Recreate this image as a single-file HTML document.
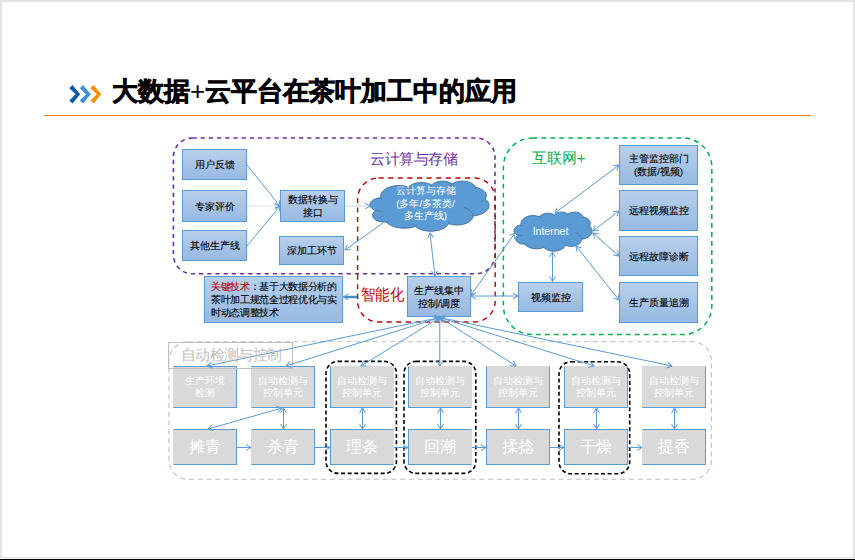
<!DOCTYPE html><html><head><meta charset="utf-8"><style>
*{box-sizing:border-box}
body{margin:0;width:855px;height:560px;overflow:hidden;background:#fff;font-family:"Liberation Sans",sans-serif;position:relative}
.a{position:absolute}
.bx{position:absolute;border:1px solid #5b9bd5;background:linear-gradient(#b7cfec,#97b9e2);display:flex;align-items:center;justify-content:center;text-align:center;font-size:9.8px;line-height:13px;color:#000;-webkit-text-stroke:0.12px #000}
.gb{position:absolute;border:1px solid #5b9bd5;background:#d9d9d9;display:flex;align-items:center;justify-content:center;text-align:center;color:#fff}
.sm{font-size:9.6px;line-height:12.5px}
.bg{font-size:15.5px}
svg{position:absolute;left:0;top:0}
</style></head><body>

<div class="a" style="left:0;top:0;width:855px;height:2px;background:#e3e3e3"></div>
<div class="a" style="left:0;top:0;width:2px;height:560px;background:#e3e3e3"></div>
<div class="a" style="left:853px;top:0;width:2px;height:560px;background:#e3e3e3"></div>
<div class="a" style="left:0;top:557px;width:855px;height:1px;background:#e3e3e3"></div>
<div class="a" style="left:0;top:558px;width:855px;height:1px;background:#f2f2f2"></div>
<div class="a" style="left:0;top:559px;width:855px;height:1px;background:#000"></div>
<div class="a" style="left:112px;top:74px;font-size:26px;font-weight:bold;-webkit-text-stroke:0.7px #000;color:#000;white-space:nowrap">大数据<span style="-webkit-text-stroke:0;font-weight:normal">+</span>云平台在茶叶加工中的应用</div>
<div class="a" style="left:44px;top:115px;width:767px;height:1.3px;background:#ed7d31"></div>
<div class="bx" style="left:182px;top:149px;width:65px;height:31px;">用户反馈</div>
<div class="bx" style="left:182px;top:190px;width:65px;height:32px;">专家评价</div>
<div class="bx" style="left:182px;top:230px;width:65px;height:31px;">其他生产线</div>
<div class="bx" style="left:280px;top:190px;width:65px;height:32px;">数据转换与<br>接口</div>
<div class="bx" style="left:279px;top:236px;width:65px;height:29px;">深加工环节</div>
<div class="bx" style="left:204px;top:276px;width:139px;height:47px;justify-content:flex-start;padding:0 0 0 6px;line-height:13px;font-size:10px;letter-spacing:-0.35px"><div style="text-align:left;width:100%"><span style="color:#ff0000">关键技术</span>：基于大数据分析的<br>茶叶加工规范全过程优化与实<br>时动态调整技术</div></div>
<div class="bx" style="left:407px;top:276px;width:64px;height:41px;">生产线集中<br>控制/调度</div>
<div class="bx" style="left:619px;top:145px;width:79px;height:40px;">主管监控部门<br>(数据/视频)</div>
<div class="bx" style="left:619px;top:190px;width:79px;height:41px;">远程视频监控</div>
<div class="bx" style="left:619px;top:236px;width:79px;height:40px;">远程故障诊断</div>
<div class="bx" style="left:619px;top:282px;width:79px;height:41px;">生产质量追溯</div>
<div class="bx" style="left:518px;top:282px;width:65px;height:30px;">视频监控</div>
<div class="gb sm" style="left:173.0px;top:366px;width:64px;height:42px;border-left-color:#d9d9d9;">生产环境<br>检测</div>
<div class="gb bg" style="left:173.0px;top:429px;width:64px;height:36px;border-left-color:#d9d9d9;">摊青</div>
<div class="gb sm" style="left:251.0px;top:366px;width:64px;height:42px;border-left-color:#d9d9d9;">自动检测与<br>控制单元</div>
<div class="gb bg" style="left:251.0px;top:429px;width:64px;height:36px;border-left-color:#d9d9d9;">杀青</div>
<div class="gb sm" style="left:330.0px;top:366px;width:64px;height:42px;border-right-color:#d9d9d9;border-top-color:#d9d9d9">自动检测与<br>控制单元</div>
<div class="gb bg" style="left:330.0px;top:429px;width:64px;height:36px;border-right-color:#d9d9d9;">理条</div>
<div class="gb sm" style="left:408.0px;top:366px;width:64px;height:42px;border-right-color:#d9d9d9;border-top-color:#d9d9d9">自动检测与<br>控制单元</div>
<div class="gb bg" style="left:408.0px;top:429px;width:64px;height:36px;border-right-color:#d9d9d9;">回潮</div>
<div class="gb sm" style="left:486.0px;top:366px;width:64px;height:42px;border-top-color:#d9d9d9">自动检测与<br>控制单元</div>
<div class="gb bg" style="left:486.0px;top:429px;width:64px;height:36px;">揉捻</div>
<div class="gb sm" style="left:564.0px;top:366px;width:64px;height:42px;border-top-color:#d9d9d9">自动检测与<br>控制单元</div>
<div class="gb bg" style="left:564.0px;top:429px;width:64px;height:36px;">干燥</div>
<div class="gb sm" style="left:642.0px;top:366px;width:64px;height:42px;border-left-color:#d9d9d9;border-top-color:#d9d9d9">自动检测与<br>控制单元</div>
<div class="gb bg" style="left:642.0px;top:429px;width:64px;height:36px;border-left-color:#d9d9d9;">提香</div>
<svg width="855" height="560" viewBox="0 0 855 560">
<defs><marker id="ar" markerWidth="8" markerHeight="8" refX="6" refY="4" orient="auto-start-reverse" markerUnits="userSpaceOnUse"><path d="M1,1 L6,4 L1,7" fill="none" stroke="#5b9bd5" stroke-width="1"/></marker></defs>
<path d="M69.3,88.2 L72.5,85 L80.1,94.3 L72.5,103.6 L69.3,100.4 L75.7,94.3 Z" fill="#0b5aa6"/>
<path d="M79.8,88.2 L83.0,85 L90.6,94.3 L83.0,103.6 L79.8,100.4 L86.2,94.3 Z" fill="#3a8fd9"/>
<path d="M90.4,88.2 L93.6,85 L101.2,94.3 L93.6,103.6 L90.4,100.4 L96.8,94.3 Z" fill="#f39200"/>
<rect x="173.4" y="138.0" width="321.6" height="135.8" rx="19" fill="none" stroke="#7030a0" stroke-width="1.6" stroke-dasharray="4.3 3.9"/>
<rect x="357.6" y="178.0" width="137.6" height="144.0" rx="21" fill="none" stroke="#c00000" stroke-width="1.4" stroke-dasharray="5.1 4.5"/>
<rect x="503.4" y="138.0" width="208.4" height="196.6" rx="29" fill="none" stroke="#00b050" stroke-width="1.5" stroke-dasharray="4.8 4.2"/>
<rect x="169.0" y="341.8" width="542.4" height="137.5" rx="19" fill="none" stroke="#bfbfbf" stroke-width="1.1" stroke-dasharray="5 3.8"/>
<rect x="326.0" y="361.4" width="70.4" height="112.0" rx="12" fill="none" stroke="#000" stroke-width="1.6" stroke-dasharray="4 2.6"/>
<rect x="404.0" y="361.4" width="71.8" height="112.0" rx="12" fill="none" stroke="#000" stroke-width="1.6" stroke-dasharray="4 2.6"/>
<rect x="559.0" y="361.8" width="70.7" height="112.0" rx="12" fill="none" stroke="#000" stroke-width="1.6" stroke-dasharray="4 2.6"/>
<rect x="168.5" y="342.5" width="124" height="26" fill="none" stroke="#bfbfbf" stroke-width="1"/>
<path d="M380.74,197.63L380.62,196.93L380.57,196.22L380.61,195.52L380.73,194.81L380.94,194.10L381.24,193.39L381.63,192.66L382.13,191.93L382.76,191.20L383.51,190.46L384.42,189.72L385.49,188.99L386.74,188.29L388.19,187.62L389.83,187.00L391.66,186.47L393.68,186.04L395.83,185.74L398.07,185.58L400.35,185.58L402.59,185.74L404.74,186.05L406.75,186.48L408.58,187.02L409.00,186.60L409.48,186.17L410.03,185.75L410.65,185.33L411.34,184.92L412.11,184.52L412.96,184.14L413.90,183.79L414.92,183.46L416.02,183.18L417.18,182.94L418.41,182.75L419.68,182.62L420.98,182.56L422.29,182.57L423.59,182.64L424.85,182.77L426.07,182.96L427.23,183.21L428.32,183.50L429.33,183.83L430.25,184.19L431.10,184.57L431.86,184.97L432.22,184.59L432.64,184.20L433.13,183.82L433.68,183.44L434.31,183.07L435.02,182.71L435.82,182.37L436.69,182.06L437.65,181.78L438.69,181.54L439.78,181.36L440.93,181.23L442.11,181.17L443.29,181.17L444.47,181.24L445.61,181.38L446.70,181.57L447.72,181.81L448.67,182.10L449.53,182.41L450.31,182.76L451.01,183.12L451.63,183.49L452.18,183.87L452.97,183.38L453.88,182.91L454.92,182.47L456.09,182.07L457.38,181.73L458.77,181.46L460.25,181.27L461.78,181.18L463.33,181.19L464.85,181.30L466.31,181.51L467.69,181.80L468.95,182.16L470.09,182.57L471.10,183.01L471.98,183.49L472.75,183.98L473.41,184.48L473.96,184.98L474.43,185.48L474.81,185.98L475.13,186.48L475.37,186.97L475.55,187.45L476.99,187.72L478.33,188.07L479.56,188.47L480.66,188.91L481.64,189.38L482.50,189.88L483.25,190.38L483.90,190.90L484.46,191.41L484.93,191.93L485.32,192.44L485.65,192.94L485.90,193.44L486.10,193.94L486.25,194.43L486.34,194.93L486.38,195.42L486.37,195.91L486.31,196.40L486.20,196.89L486.04,197.38L485.82,197.88L485.54,198.39L485.19,198.89L486.15,199.67L486.93,200.45L487.58,201.23L488.09,202.00L488.48,202.76L488.76,203.51L488.95,204.26L489.04,205.00L489.05,205.75L488.96,206.49L488.77,207.24L488.49,207.99L488.11,208.75L487.60,209.52L486.97,210.30L486.19,211.08L485.24,211.86L484.12,212.63L482.79,213.37L481.25,214.07L479.48,214.71L477.51,215.26L475.34,215.68L473.04,215.96L473.00,216.51L472.90,217.07L472.74,217.63L472.51,218.19L472.22,218.76L471.85,219.34L471.39,219.92L470.84,220.50L470.19,221.08L469.42,221.66L468.53,222.23L467.50,222.78L466.34,223.30L465.02,223.78L463.57,224.20L462.00,224.55L460.31,224.80L458.55,224.95L456.76,224.99L454.97,224.91L453.24,224.72L451.59,224.43L450.06,224.05L448.66,223.61L448.26,224.28L447.77,224.96L447.16,225.65L446.44,226.34L445.59,227.03L444.60,227.71L443.45,228.37L442.13,229.00L440.64,229.59L438.98,230.11L437.15,230.55L435.20,230.89L433.14,231.10L431.02,231.18L428.90,231.12L426.83,230.93L424.86,230.61L423.01,230.19L421.32,229.67L419.81,229.10L418.46,228.47L417.29,227.81L416.27,227.13L415.40,226.44L414.15,226.84L412.83,227.20L411.43,227.51L409.96,227.77L408.44,227.97L406.88,228.11L405.29,228.18L403.69,228.18L402.10,228.11L400.54,227.98L399.01,227.78L397.54,227.53L396.14,227.22L394.81,226.87L393.56,226.47L392.40,226.04L391.32,225.59L390.32,225.11L389.41,224.62L388.58,224.12L387.83,223.61L387.15,223.09L386.54,222.57L385.99,222.05L384.26,222.10L382.54,222.00L380.90,221.77L379.38,221.42L378.04,220.99L376.87,220.50L375.87,219.96L375.05,219.41L374.37,218.84L373.82,218.28L373.39,217.72L373.06,217.17L372.82,216.62L372.67,216.07L372.59,215.54L372.59,215.00L372.66,214.46L372.81,213.91L373.04,213.37L373.37,212.81L373.79,212.25L374.33,211.69L375.00,211.13L375.82,210.57L374.54,210.07L373.45,209.52L372.55,208.95L371.81,208.36L371.22,207.77L370.76,207.19L370.41,206.61L370.16,206.04L369.99,205.48L369.91,204.92L369.91,204.36L369.99,203.80L370.15,203.24L370.40,202.67L370.75,202.09L371.20,201.51L371.79,200.92L372.52,200.34L373.42,199.76L374.50,199.21L375.78,198.71L377.25,198.29L378.88,197.97L380.64,197.79Z" fill="#5b9bd5" stroke="#41719c" stroke-width="1"/>
<path d="M521.04,224.97L520.96,224.42L520.93,223.87L520.96,223.32L521.03,222.77L521.17,222.22L521.36,221.66L521.62,221.10L521.95,220.53L522.36,219.96L522.86,219.38L523.45,218.80L524.15,218.24L524.97,217.68L525.92,217.16L527.00,216.68L528.20,216.26L529.52,215.93L530.93,215.69L532.40,215.57L533.89,215.57L535.36,215.70L536.77,215.94L538.09,216.28L539.29,216.70L539.56,216.37L539.88,216.03L540.24,215.70L540.64,215.38L541.10,215.06L541.60,214.75L542.16,214.45L542.78,214.17L543.44,213.92L544.16,213.70L544.93,213.51L545.73,213.37L546.56,213.27L547.42,213.22L548.27,213.22L549.12,213.28L549.96,213.38L550.75,213.53L551.51,213.72L552.23,213.95L552.89,214.21L553.49,214.49L554.05,214.79L554.55,215.10L554.78,214.80L555.06,214.50L555.38,214.20L555.74,213.90L556.16,213.61L556.62,213.33L557.14,213.07L557.72,212.82L558.34,212.61L559.02,212.42L559.74,212.28L560.49,212.18L561.26,212.13L562.04,212.14L562.81,212.19L563.56,212.30L564.27,212.45L564.94,212.63L565.56,212.86L566.13,213.10L566.64,213.37L567.10,213.65L567.51,213.94L567.87,214.24L568.38,213.86L568.98,213.49L569.66,213.15L570.43,212.84L571.27,212.57L572.19,212.36L573.16,212.21L574.16,212.14L575.17,212.15L576.17,212.24L577.13,212.40L578.03,212.62L578.86,212.90L579.60,213.22L580.27,213.57L580.85,213.94L581.35,214.32L581.78,214.71L582.14,215.11L582.45,215.50L582.70,215.89L582.91,216.27L583.07,216.65L583.19,217.03L584.13,217.25L585.01,217.51L585.81,217.82L586.53,218.17L587.18,218.54L587.74,218.92L588.23,219.32L588.66,219.72L589.02,220.12L589.33,220.52L589.59,220.92L589.80,221.31L589.97,221.71L590.10,222.09L590.20,222.48L590.26,222.86L590.28,223.24L590.28,223.63L590.24,224.01L590.17,224.39L590.06,224.78L589.92,225.17L589.73,225.56L589.51,225.96L590.13,226.56L590.65,227.17L591.07,227.78L591.40,228.38L591.66,228.97L591.85,229.56L591.97,230.14L592.03,230.72L592.03,231.30L591.97,231.88L591.85,232.47L591.67,233.05L591.41,233.65L591.08,234.25L590.67,234.85L590.16,235.46L589.54,236.07L588.80,236.67L587.93,237.25L586.92,237.80L585.76,238.30L584.47,238.72L583.05,239.05L581.54,239.27L581.51,239.70L581.45,240.13L581.34,240.57L581.19,241.01L581.00,241.46L580.76,241.90L580.46,242.35L580.10,242.81L579.67,243.26L579.17,243.72L578.58,244.16L577.91,244.59L577.14,245.00L576.29,245.37L575.33,245.70L574.30,245.97L573.20,246.17L572.04,246.28L570.87,246.31L569.70,246.25L568.56,246.10L567.48,245.87L566.48,245.58L565.56,245.23L565.30,245.76L564.97,246.29L564.58,246.83L564.11,247.37L563.55,247.90L562.90,248.43L562.14,248.95L561.28,249.44L560.30,249.90L559.21,250.31L558.02,250.65L556.73,250.91L555.38,251.08L554.00,251.14L552.61,251.10L551.25,250.95L549.96,250.70L548.75,250.37L547.64,249.97L546.65,249.51L545.77,249.03L545.00,248.51L544.33,247.98L543.76,247.45L542.94,247.76L542.07,248.04L541.16,248.28L540.19,248.48L539.20,248.64L538.17,248.74L537.13,248.80L536.08,248.80L535.04,248.75L534.02,248.65L533.02,248.49L532.05,248.29L531.13,248.05L530.26,247.77L529.44,247.47L528.68,247.13L527.97,246.78L527.32,246.41L526.72,246.02L526.18,245.63L525.69,245.23L525.24,244.83L524.84,244.43L524.48,244.02L523.34,244.06L522.22,243.98L521.14,243.80L520.15,243.53L519.27,243.19L518.50,242.81L517.85,242.39L517.31,241.96L516.86,241.52L516.50,241.08L516.22,240.64L516.01,240.21L515.85,239.78L515.75,239.36L515.70,238.94L515.70,238.52L515.74,238.10L515.84,237.67L515.99,237.25L516.21,236.81L516.49,236.38L516.84,235.94L517.28,235.50L517.82,235.06L516.98,234.68L516.26,234.25L515.67,233.80L515.19,233.34L514.80,232.88L514.50,232.43L514.27,231.98L514.10,231.53L514.00,231.09L513.94,230.66L513.94,230.22L513.99,229.79L514.10,229.35L514.26,228.90L514.49,228.45L514.79,228.00L515.17,227.54L515.65,227.08L516.24,226.63L516.95,226.20L517.79,225.81L518.75,225.48L519.82,225.24L520.98,225.09Z" fill="#5b9bd5" stroke="#41719c" stroke-width="1"/>
<path d="M382.93,211.30L382.30,211.32L381.67,211.32L381.04,211.30L380.42,211.26L379.81,211.20L379.20,211.13L378.61,211.04L378.04,210.93L377.49,210.81L376.95,210.68L376.44,210.53L375.95,210.37M389.08,221.39L388.85,221.44L388.60,221.49L388.36,221.54L388.11,221.59L387.86,221.63L387.61,221.67L387.35,221.70L387.09,221.74L386.83,221.77L386.56,221.79L386.30,221.81L386.03,221.83M415.39,226.24L415.20,226.07L415.01,225.91L414.84,225.74L414.67,225.57L414.50,225.40L414.35,225.23L414.20,225.06L414.06,224.90L413.92,224.73L413.79,224.56L413.67,224.40L413.55,224.23M449.41,221.22L449.38,221.40L449.34,221.59L449.30,221.77L449.26,221.95L449.21,222.14L449.15,222.32L449.08,222.50L449.01,222.69L448.94,222.87L448.86,223.06L448.77,223.24L448.67,223.43M464.01,207.57L465.74,208.13L467.24,208.76L468.53,209.45L469.61,210.16L470.50,210.88L471.22,211.61L471.80,212.33L472.24,213.04L472.58,213.74L472.80,214.44L472.93,215.14L472.97,215.83M485.14,198.77L484.93,199.03L484.71,199.29L484.47,199.55L484.20,199.82L483.91,200.08L483.60,200.34L483.26,200.60L482.90,200.86L482.50,201.12L482.08,201.37L481.63,201.62L481.15,201.87M475.57,187.28L475.61,187.40L475.64,187.53L475.67,187.65L475.69,187.77L475.72,187.89L475.74,188.01L475.75,188.13L475.76,188.26L475.77,188.38L475.78,188.50L475.78,188.62L475.78,188.74M450.10,185.57L450.22,185.42L450.35,185.26L450.49,185.11L450.64,184.95L450.79,184.80L450.96,184.64L451.13,184.48L451.31,184.33L451.51,184.17L451.71,184.02L451.92,183.86L452.14,183.71M430.99,186.46L431.04,186.33L431.10,186.20L431.16,186.07L431.23,185.93L431.30,185.80L431.38,185.67L431.47,185.53L431.56,185.40L431.65,185.26L431.76,185.13L431.86,184.99L431.98,184.85M408.56,187.01L408.91,187.13L409.24,187.25L409.57,187.37L409.88,187.49L410.19,187.62L410.50,187.75L410.79,187.88L411.08,188.02L411.36,188.15L411.63,188.29L411.89,188.43L412.15,188.57M381.37,199.27L381.30,199.14L381.23,199.00L381.17,198.86L381.11,198.72L381.05,198.59L380.99,198.45L380.94,198.31L380.90,198.18L380.85,198.04L380.81,197.90L380.78,197.77L380.74,197.63" fill="none" stroke="#41719c" stroke-width="0.8"/>
<path d="M522.47,235.63L522.06,235.65L521.65,235.65L521.24,235.63L520.83,235.60L520.43,235.56L520.03,235.50L519.65,235.43L519.27,235.35L518.91,235.25L518.56,235.15L518.22,235.03L517.90,234.91M526.51,243.51L526.35,243.55L526.19,243.59L526.03,243.62L525.87,243.66L525.71,243.69L525.54,243.72L525.37,243.75L525.20,243.77L525.03,243.80L524.86,243.82L524.68,243.84L524.51,243.85M543.75,247.29L543.63,247.16L543.50,247.03L543.39,246.90L543.28,246.76L543.17,246.63L543.07,246.50L542.97,246.37L542.88,246.24L542.79,246.11L542.70,245.98L542.62,245.85L542.55,245.72M566.05,243.37L566.03,243.51L566.01,243.66L565.98,243.80L565.95,243.94L565.92,244.09L565.88,244.23L565.84,244.37L565.79,244.52L565.74,244.66L565.69,244.81L565.63,244.95L565.57,245.10M575.62,232.72L576.75,233.16L577.74,233.65L578.58,234.19L579.29,234.74L579.87,235.31L580.35,235.87L580.72,236.43L581.02,236.99L581.24,237.54L581.38,238.08L581.47,238.63L581.49,239.16M589.47,225.86L589.34,226.06L589.19,226.27L589.03,226.47L588.85,226.68L588.66,226.88L588.46,227.09L588.24,227.29L588.00,227.49L587.74,227.69L587.47,227.89L587.17,228.09L586.85,228.28M583.20,216.90L583.22,216.99L583.24,217.09L583.26,217.18L583.28,217.28L583.29,217.38L583.31,217.47L583.32,217.57L583.32,217.66L583.33,217.75L583.33,217.85L583.34,217.94L583.33,218.04M566.50,215.57L566.58,215.45L566.67,215.33L566.76,215.20L566.86,215.08L566.96,214.96L567.06,214.84L567.18,214.72L567.30,214.60L567.42,214.47L567.56,214.35L567.70,214.23L567.84,214.11M553.98,216.26L554.01,216.16L554.05,216.05L554.09,215.95L554.13,215.85L554.18,215.74L554.23,215.64L554.29,215.53L554.35,215.43L554.41,215.32L554.48,215.22L554.55,215.11L554.63,215.01M539.28,216.69L539.50,216.78L539.72,216.87L539.93,216.97L540.14,217.07L540.35,217.17L540.54,217.27L540.74,217.37L540.92,217.47L541.11,217.58L541.28,217.69L541.46,217.80L541.62,217.90M521.45,226.25L521.40,226.15L521.36,226.04L521.32,225.93L521.28,225.82L521.24,225.72L521.21,225.61L521.17,225.50L521.14,225.40L521.11,225.29L521.09,225.19L521.06,225.08L521.04,224.97" fill="none" stroke="#41719c" stroke-width="0.8"/>
<line x1="247.0" y1="165.0" x2="280.0" y2="206.0" stroke="#5b9bd5" stroke-width="1"  marker-end="url(#ar)"/>
<line x1="247.0" y1="206.0" x2="280.0" y2="206.0" stroke="#d3e2f3" stroke-width="1"  marker-end="url(#ar)"/>
<line x1="247.0" y1="246.0" x2="280.0" y2="206.0" stroke="#5b9bd5" stroke-width="1"  marker-end="url(#ar)"/>
<line x1="345.0" y1="206.0" x2="370.0" y2="206.0" stroke="#c4d8ee" stroke-width="1"  marker-end="url(#ar)"/>
<line x1="383.0" y1="223.0" x2="345.0" y2="250.0" stroke="#5b9bd5" stroke-width="1"  marker-end="url(#ar)"/>
<line x1="430.0" y1="233.0" x2="435.0" y2="276.0" stroke="#5b9bd5" stroke-width="1" marker-start="url(#ar)" marker-end="url(#ar)"/>
<line x1="471.0" y1="296.0" x2="518.0" y2="296.0" stroke="#5b9bd5" stroke-width="1" marker-start="url(#ar)" marker-end="url(#ar)"/>
<line x1="515.0" y1="233.0" x2="471.0" y2="295.0" stroke="#5b9bd5" stroke-width="1" marker-start="url(#ar)" marker-end="url(#ar)"/>
<line x1="552.5" y1="252.0" x2="552.5" y2="281.5" stroke="#5b9bd5" stroke-width="1" marker-start="url(#ar)" marker-end="url(#ar)"/>
<line x1="555.0" y1="213.0" x2="619.0" y2="165.0" stroke="#5b9bd5" stroke-width="1" marker-start="url(#ar)" marker-end="url(#ar)"/>
<line x1="593.0" y1="231.0" x2="619.0" y2="211.0" stroke="#5b9bd5" stroke-width="1" marker-start="url(#ar)" marker-end="url(#ar)"/>
<line x1="593.0" y1="233.0" x2="619.0" y2="256.0" stroke="#5b9bd5" stroke-width="1" marker-start="url(#ar)" marker-end="url(#ar)"/>
<line x1="576.0" y1="246.0" x2="619.0" y2="300.0" stroke="#5b9bd5" stroke-width="1" marker-start="url(#ar)" marker-end="url(#ar)"/>
<line x1="357.0" y1="297.0" x2="343.5" y2="297.0" stroke="#4a86c5" stroke-width="2.5"  marker-end="url(#ar)"/>
<line x1="439.8" y1="317.5" x2="207.0" y2="366.0" stroke="#5b9bd5" stroke-width="1" marker-start="url(#ar)" marker-end="url(#ar)"/>
<line x1="439.8" y1="317.5" x2="286.0" y2="366.0" stroke="#5b9bd5" stroke-width="1" marker-start="url(#ar)" marker-end="url(#ar)"/>
<line x1="439.8" y1="317.5" x2="361.0" y2="366.0" stroke="#5b9bd5" stroke-width="1" marker-start="url(#ar)" marker-end="url(#ar)"/>
<line x1="439.8" y1="317.5" x2="439.8" y2="366.0" stroke="#5b9bd5" stroke-width="1" marker-start="url(#ar)" marker-end="url(#ar)"/>
<line x1="439.8" y1="317.5" x2="516.0" y2="366.0" stroke="#5b9bd5" stroke-width="1" marker-start="url(#ar)" marker-end="url(#ar)"/>
<line x1="439.8" y1="317.5" x2="594.0" y2="366.0" stroke="#5b9bd5" stroke-width="1" marker-start="url(#ar)" marker-end="url(#ar)"/>
<line x1="439.8" y1="317.5" x2="672.0" y2="366.0" stroke="#5b9bd5" stroke-width="1" marker-start="url(#ar)" marker-end="url(#ar)"/>
<line x1="283.5" y1="408.0" x2="283.5" y2="429.0" stroke="#5b9bd5" stroke-width="1" marker-start="url(#ar)" marker-end="url(#ar)"/>
<line x1="362.5" y1="408.0" x2="362.5" y2="429.0" stroke="#5b9bd5" stroke-width="1" marker-start="url(#ar)" marker-end="url(#ar)"/>
<line x1="440.5" y1="408.0" x2="440.5" y2="429.0" stroke="#5b9bd5" stroke-width="1" marker-start="url(#ar)" marker-end="url(#ar)"/>
<line x1="518.5" y1="408.0" x2="518.5" y2="429.0" stroke="#5b9bd5" stroke-width="1" marker-start="url(#ar)" marker-end="url(#ar)"/>
<line x1="596.5" y1="408.0" x2="596.5" y2="429.0" stroke="#5b9bd5" stroke-width="1" marker-start="url(#ar)" marker-end="url(#ar)"/>
<line x1="674.5" y1="408.0" x2="674.5" y2="429.0" stroke="#5b9bd5" stroke-width="1" marker-start="url(#ar)" marker-end="url(#ar)"/>
<line x1="236.0" y1="447.5" x2="251.0" y2="447.5" stroke="#5b9bd5" stroke-width="1"  marker-end="url(#ar)"/>
<line x1="315.0" y1="447.5" x2="330.0" y2="447.5" stroke="#5b9bd5" stroke-width="1"  marker-end="url(#ar)"/>
<line x1="394.0" y1="447.5" x2="408.0" y2="447.5" stroke="#5b9bd5" stroke-width="1"  marker-end="url(#ar)"/>
<line x1="472.0" y1="447.5" x2="486.0" y2="447.5" stroke="#5b9bd5" stroke-width="1"  marker-end="url(#ar)"/>
<line x1="550.0" y1="447.5" x2="564.0" y2="447.5" stroke="#5b9bd5" stroke-width="1"  marker-end="url(#ar)"/>
<line x1="628.0" y1="447.5" x2="642.0" y2="447.5" stroke="#5b9bd5" stroke-width="1"  marker-end="url(#ar)"/>
<line x1="282.0" y1="408.0" x2="208.0" y2="429.0" stroke="#5b9bd5" stroke-width="1" marker-start="url(#ar)" marker-end="url(#ar)"/>
</svg>
<div class="a" style="left:370px;top:150px;font-size:15px;letter-spacing:-0.5px;color:#7030a0;white-space:nowrap">云计算与存储</div>
<div class="a" style="left:532px;top:149px;font-size:14.5px;color:#00b050;white-space:nowrap">互联网+</div>
<div class="a" style="left:361px;top:284.5px;font-size:16px;transform:scaleX(0.9);transform-origin:0 0;color:#c80000;white-space:nowrap">智能化</div>
<div class="a" style="left:366px;top:185px;width:119px;text-align:center;font-size:9.8px;line-height:12.5px;color:#fff">云计算与存储<br>(多年/多茶类/<br>多生产线)</div>
<div class="a" style="left:511.5px;top:225px;width:78px;text-align:center;font-size:10.5px;color:#fff">Internet</div>
<div class="a" style="left:181px;top:346px;font-size:15px;letter-spacing:-0.7px;color:#c0c0c0;white-space:nowrap">自动检测与控制</div>
</body></html>
